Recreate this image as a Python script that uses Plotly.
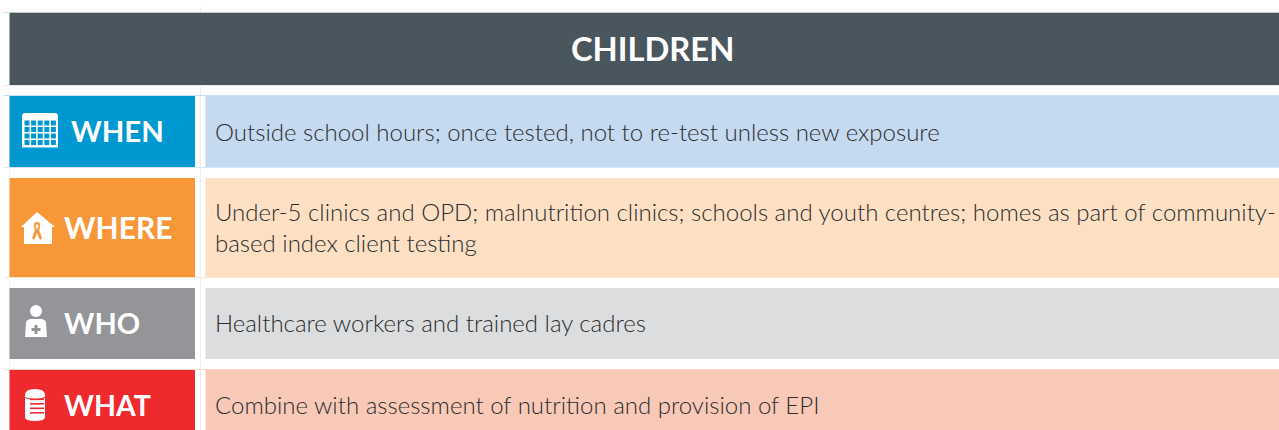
import plotly.graph_objects as go

TITLE = "CHILDREN"
ROW_LABELS = ["WHEN", "WHERE", "WHO", "WHAT"]
ROW_TEXTS = [
    "Outside school hours; once tested, not to re-test unless new exposure",
    "Under-5 clinics and OPD; malnutrition clinics; schools and youth centres; homes as part of community-<br>based index client testing",
    "Healthcare workers and trained lay cadres",
    "Combine with assessment of nutrition and provision of EPI",
]

# layout (pixel space)
W, H = 1279, 430
ROW_TOPS = [96, 178, 288, 370]
ROW_BOTS = [167, 277, 359, 440]
ROW_DARK = ["#0098d1", "#f89738", "#939598", "#ee2a2e"]
ROW_LIGHT = ["#c5daf0", "#fddfc4", "#dcddde", "#f9c9b8"]
LABEL_X = [71, 64, 64, 64]
LABEL_Y = [130.5, 226.5, 322, 405]
LABEL_SIZE = [29.3, 30, 29, 28.5]
TEXT_Y = [131, 226.5, 322.5, 404.5]
FONT = "Lato"

fig = go.Figure()
shapes, ann = [], []


def rect(x0, y0, x1, y1, color):
    shapes.append(dict(type="rect", xref="x", yref="y", x0=x0, y0=y0, x1=x1, y1=y1,
                       fillcolor=color, line_width=0, layer="below"))


def path(d, color):
    shapes.append(dict(type="path", xref="x", yref="y", path=d, fillcolor=color, line_width=0))


def hline(x0, x1, y, color):
    shapes.append(dict(type="line", xref="x", yref="y", x0=x0, x1=x1, y0=y, y1=y,
                       line=dict(color=color, width=1), layer="below"))


def vline(x, y0, y1, color):
    shapes.append(dict(type="line", xref="x", yref="y", x0=x, x1=x, y0=y0, y1=y1,
                       line=dict(color=color, width=1), layer="below"))


# faint guides
vline(200.5, 7, 430, "#f0f0f0")
vline(9.5, 85, 430, "#f3f3f3")
hline(3, 9, 12.5, "#dddddd")
hline(3, 1279, 85.5, "#eeeeee")
hline(4, 1279, 95.5, "#bfe3f2")
hline(4, 1279, 167.5, "#d3ebf6")
hline(4, 1279, 277.5, "#fde3cc")
hline(4, 1279, 369.5, "#fbd6cc")

# header
rect(9.5, 13, 1279, 85, "#4a565e")
hline(9.5, 1279, 12.5, "#c6c9cb")
ann.append(dict(x=652, y=48, text=f"<b>{TITLE}</b>", showarrow=False, xanchor="center", yanchor="middle",
                font=dict(family=FONT, size=32.7, color="#ffffff")))

for i, label in enumerate(ROW_LABELS):
    rect(9.5, ROW_TOPS[i], 195, ROW_BOTS[i], ROW_DARK[i])
    rect(205.5, ROW_TOPS[i], 1279, ROW_BOTS[i], ROW_LIGHT[i])
    ann.append(dict(x=LABEL_X[i], y=LABEL_Y[i], text=f"<b>{label}</b>", showarrow=False,
                    xanchor="left", yanchor="middle", xshift=-2,
                    font=dict(family=FONT, size=LABEL_SIZE[i], color="#ffffff")))
    ann.append(dict(x=215, y=TEXT_Y[i], text=ROW_TEXTS[i], showarrow=False,
                    xanchor="left", yanchor="middle", align="left", xshift=-2,
                    font=dict(family=FONT, size=24, color="#2b2d2f", weight=300)))

# calendar icon
W_ = "#ffffff"
path("M22 116 Q22 113 25 113 H55 Q58 113 58 116 V119 H22 Z", W_)
B = "#0098d1"
path("M22 119 H58 V147.5 H22 Z", W_)
for r in range(4):
    for c in range(5):
        x = 24.5 + c * 6.6
        y = 120.5 + r * 6.5
        path(f"M{x} {y} H{x+5} V{y+5} H{x} Z", B)

# house icon
path("M37 212 L55 227 H52 V244 H24 V227 H21 Z", W_)
O = "#f89738"
path("M37 222 C33 222 33 227 35 230 L32 238 L34 240 L37 233 L40 240 L42 238 L39 230 "
     "C41 227 41 222 37 222 Z M37 224.5 C39 224.5 39 227 37 229 C35 227 35 224.5 37 224.5 Z", O)

# nurse icon
shapes.append(dict(type="circle", xref="x", yref="y", x0=30, x1=42, y0=305, y1=317, fillcolor=W_, line_width=0))
path("M30 319 H42 Q46 320 46 323 L47 337 H25 L26 323 Q26 320 30 319 Z", W_)
G = "#939598"
path("M34.5 325 H37.5 V328 H40.5 V331 H37.5 V334 H34.5 V331 H31.5 V328 H34.5 Z", G)

# pill bottle icon
path("M25 395 Q25 389 35 389 Q45 389 45 395 V417 Q45 421 35 421 Q25 421 25 417 Z", W_)
R = "#ee2a2e"
for y in [398.5, 403, 407.5, 412]:
    path(f"M30 {y} H44 V{y+1.6} H30 Z", R)
path("M25 397 Q35 401 45 397 V398 Q35 402 25 398 Z", R)

fig.add_trace(go.Scatter(x=[0, W], y=[0, H], mode="markers", marker=dict(opacity=0), hoverinfo="skip", showlegend=False))
fig.update_layout(width=W, height=H, margin=dict(l=0, r=0, t=0, b=0), plot_bgcolor="#ffffff",
                  paper_bgcolor="#ffffff", shapes=shapes, annotations=ann,
                  xaxis=dict(range=[0, W], visible=False, fixedrange=True),
                  yaxis=dict(range=[H, 0], visible=False, fixedrange=True))
fig.write_html("out.html", config=dict(displayModeBar=False),
               post_script="document.body.style.margin='0';document.body.style.overflow='hidden';")
